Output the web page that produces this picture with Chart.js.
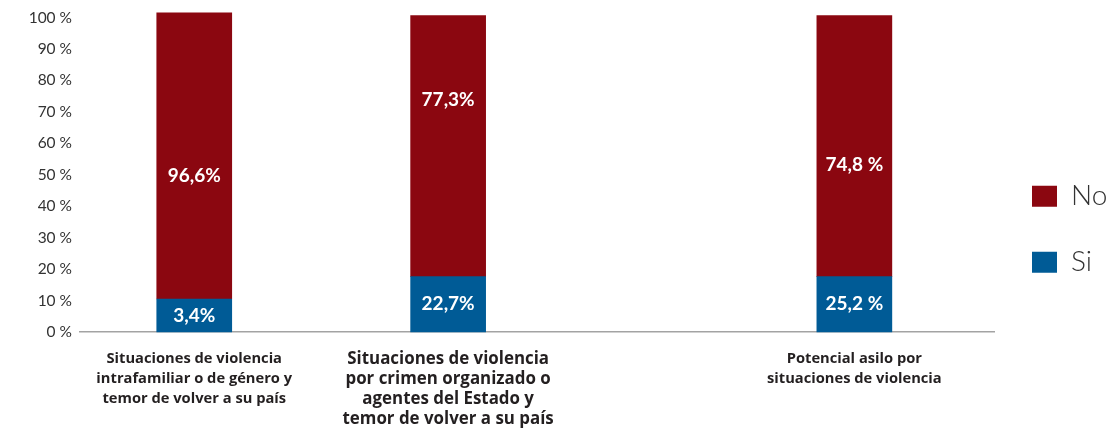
<!DOCTYPE html>
<html>
<head>
<meta charset="utf-8">
<script src="https://cdn.jsdelivr.net/npm/chart.js@4"></script>
<style>
  html, body { margin: 0; padding: 0; background: #ffffff; }
  #wrap { width: 1107px; height: 430px; position: relative; }
</style>
</head>
<body>
<div id="wrap"><canvas id="c"></canvas></div>
<script>
// ---------- data ----------
const categories = [
  ['Situaciones de violencia', 'intrafamiliar o de género y', 'temor de volver a su país'],
  ['Situaciones de violencia', 'por crimen organizado o', 'agentes del Estado y', 'temor de volver a su país'],
  ['Potencial asilo por', 'situaciones de violencia']
];
const seriesNames = ['Si', 'No'];
const siValues = [10.5, 17.6, 17.6];
const noValues = [91.0, 83.0, 83.0];
const siLabels = ['3,4%', '22,7%', '25,2 %'];
const noLabels = ['96,6%', '77,3%', '74,8 %'];
const yTickValues = [0, 10, 20, 30, 40, 50, 60, 70, 80, 90, 100];

// ---------- layout / style (not data) ----------
const slotCount = 36;            // spacer slots on the category axis
const slotOf = [4, 14, 30];      // which slot each category occupies
const noLabelLevel = [49.6, 73.9, 53.1]; // where the "No" value labels sit (in % units)
const categoryFontSize = [14.7, 16.9, 14.7];

function toSlots(arr, empty) {
  const out = new Array(slotCount).fill(empty);
  slotOf.forEach((s, i) => { out[s] = arr[i]; });
  return out;
}
const slotFontSize = toSlots(categoryFontSize, 14.7);

const colors = { Si: '#005b96', No: '#8b0710' };

const valueLabelPlugin = {
  id: 'valueLabels',
  afterDatasetsDraw(chart) {
    const ctx = chart.ctx;
    const yScale = chart.scales.y;
    ctx.save();
    ctx.fillStyle = '#ffffff';
    ctx.font = 'bold 19px Lato, "Open Sans", sans-serif';
    ctx.textAlign = 'center';
    ctx.textBaseline = 'middle';
    chart.data.datasets.forEach((ds, di) => {
      const meta = chart.getDatasetMeta(di);
      meta.data.forEach((el, i) => {
        const txt = ds.valueLabels[i];
        if (!txt) return;
        let y;
        if (ds.labelLevels && ds.labelLevels[i] != null) {
          y = yScale.getPixelForValue(ds.labelLevels[i]);
        } else {
          y = (el.y + el.base) / 2;
        }
        ctx.fillText(txt, el.x, y);
      });
    });
    ctx.restore();
  }
};

Chart.defaults.font.family = 'Lato, "Open Sans", sans-serif';

new Chart(document.getElementById('c'), {
  type: 'bar',
  data: {
    labels: toSlots(categories, ''),
    datasets: [
      {
        label: seriesNames[0],
        data: toSlots(siValues, null),
        valueLabels: toSlots(siLabels, null),
        backgroundColor: colors.Si,
        barThickness: 75,
        clip: false
      },
      {
        label: seriesNames[1],
        data: toSlots(noValues, null),
        valueLabels: toSlots(noLabels, null),
        labelLevels: toSlots(noLabelLevel, null),
        backgroundColor: colors.No,
        barThickness: 75,
        clip: false
      }
    ]
  },
  options: {
    responsive: true,
    maintainAspectRatio: false,
    animation: false,
    layout: { padding: { top: 17.5, bottom: 0, left: 0, right: 0 } },
    plugins: {
      tooltip: { enabled: false },
      legend: {
        position: 'right',
        reverse: true,
        maxWidth: 113,
        title: { display: true, text: ' ', padding: 0, font: { size: 9, lineHeight: 1.2 } },
        labels: {
          boxWidth: 25,
          boxHeight: 21,
          padding: 38,
          color: '#333333',
          font: { family: 'Lato, "Open Sans", sans-serif', size: 28, weight: '300' }
        }
      }
    },
    scales: {
      x: {
        stacked: true,
        grid: { display: false, drawTicks: false },
        border: { display: true, color: '#a3a3a3', width: 1.5 },
        afterFit(scale) { scale.height = 98; },
        ticks: {
          autoSkip: false,
          maxRotation: 0,
          minRotation: 0,
          padding: 17,
          color: '#231f20',
          font: (c) => ({
            family: '"Open Sans", Lato, sans-serif',
            size: slotFontSize[c.index] || 14.7,
            weight: 'bold',
            lineHeight: '20px'
          })
        }
      },
      y: {
        stacked: true,
        min: 0,
        max: 100,
        grid: { display: false, drawTicks: false },
        border: { display: false },
        afterFit(scale) { scale.width = 80; },
        afterBuildTicks(scale) { scale.ticks = yTickValues.map(v => ({ value: v })); },
        ticks: {
          padding: 8,
          color: '#333333',
          font: { family: 'Lato, "Open Sans", sans-serif', size: 15.5 },
          callback: (v) => v + ' %'
        }
      }
    }
  },
  plugins: [valueLabelPlugin]
});
</script>
</body>
</html>
